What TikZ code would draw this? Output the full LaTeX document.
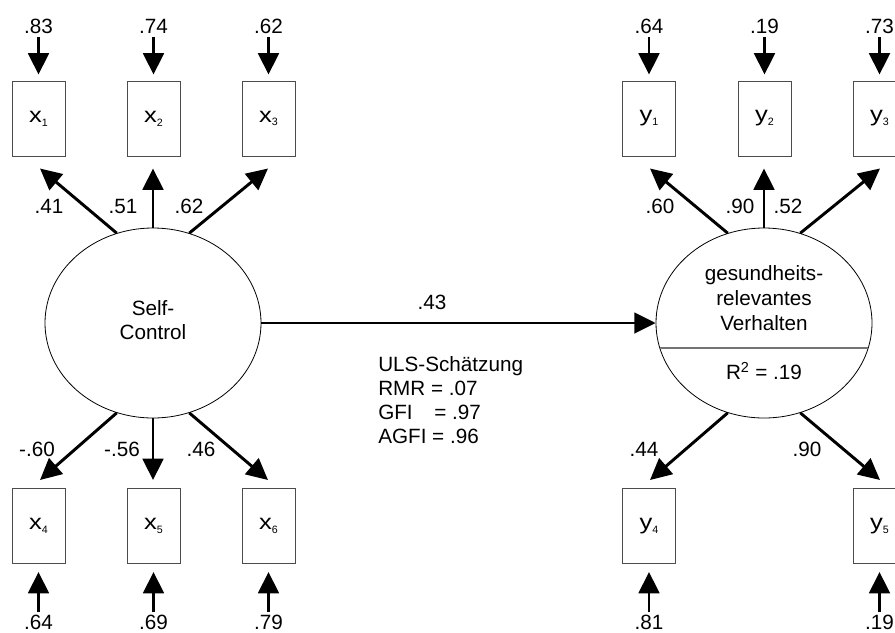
\documentclass[tikz,border=0pt]{standalone}
\usepackage{fontspec}
\setmainfont{Liberation Sans}
\usetikzlibrary{arrows.meta,shapes.geometric,calc}
\newcommand{\vsub}[2]{\scalebox{1.2}[1]{\fontsize{16}{16}\selectfont #1}\raisebox{-0.35ex}{\fontsize{8}{8}\selectfont #2}}
\begin{document}
\begin{tikzpicture}[x=0.75pt,y=-0.75pt,
  font=\fontsize{15.5}{18}\selectfont,
  obs/.style={draw=black!70, line width=0.75pt, minimum width=53*0.75pt, minimum height=75*0.75pt, inner sep=0pt},
  lat/.style={draw, ellipse, line width=0.6pt, minimum width=216*0.75pt, minimum height=190*0.75pt, inner sep=0pt},
  arr/.style={line width=2.2pt, -{Triangle[length=16pt,width=15.5pt]}},
  lbl/.style={inner sep=0pt},
  ttop/.style={arr, shorten >=4.5pt, shorten <=2.25pt},
  tbot/.style={arr, shorten >=6pt, shorten <=1.5pt},
]
\useasboundingbox (0,0) rectangle (895,632);
% latent variables
\node[lat] (sc) at (153,323) {};
\node[lat] (gv) at (764,323) {};
\node[lbl, align=center, font=\fontsize{15.5}{18.5}\selectfont] (sct) at (153,320) {Self-\\Control};
\node[lbl, align=center, font=\fontsize{15.5}{18.5}\selectfont] (gvt) at (764,298) {gesundheits-\\relevantes\\Verhalten};
\node[lbl] (r2) at (764,371) {R\textsuperscript{2} = .19};
\draw[black!55, line width=1.1pt] (gv.west |- 0,348) ++(4,0) coordinate (gl) -- ($(gv.east |- 0,348)+(-4,0)$) coordinate (gr);
% observed
\node[obs] (x1) at (38.5,118.5) {\vsub{x}{1}};
\node[obs] (x2) at (153.5,118.5) {\vsub{x}{2}};
\node[obs] (x3) at (268.5,118.5) {\vsub{x}{3}};
\node[obs] (x4) at (38.5,526) {\vsub{x}{4}};
\node[obs] (x5) at (153.5,526) {\vsub{x}{5}};
\node[obs] (x6) at (268.5,526) {\vsub{x}{6}};
\node[obs] (y1) at (649,118.5) {\vsub{y}{1}};
\node[obs] (y2) at (764.5,118.5) {\vsub{y}{2}};
\node[obs] (y3) at (879.5,118.5) {\vsub{y}{3}};
\node[obs] (y4) at (649,526) {\vsub{y}{4}};
\node[obs] (y5) at (879.5,526) {\vsub{y}{5}};
% error labels top
\node[lbl] (e1) at (38.5,26.5) {.83};
\node[lbl] (e2) at (153.5,26.5) {.74};
\node[lbl] (e3) at (268.5,26.5) {.62};
\node[lbl] (e7) at (649,26.5) {.64};
\node[lbl] (e8) at (764.5,26.5) {.19};
\node[lbl] (e9) at (879.5,26.5) {.73};
\foreach \e/\b in {e1/x1,e2/x2,e3/x3,e7/y1,e8/y2,e9/y3}
  \draw[ttop] (\e.south) -- (\b.north);
% error labels bottom
\node[lbl] (e4) at (38.5,622) {.64};
\node[lbl] (e5) at (153.5,622) {.69};
\node[lbl] (e6) at (268.5,622) {.79};
\node[lbl] (e10) at (649,622) {.81};
\node[lbl] (e11) at (879.5,622) {.19};
\foreach \e/\b in {e4/x4,e5/x5,e6/x6,e10/y4,e11/y5}
  \draw[tbot] (\e.north) -- (\b.south);
% loadings
\draw[arr] (sc.112) -- ($(x1.south)+(1.5,12)$);
\draw[arr] (sc.north) -- ($(x2.south)+(-0.5,12)$);
\draw[arr] (sc.68) -- ($(x3.south)+(-0.5,12)$);
\draw[arr] (sc.-112) -- ($(x4.north)+(1.5,-8)$);
\draw[arr] (sc.south) -- ($(x5.north)+(-0.5,-8)$);
\draw[arr] (sc.-68) -- ($(x6.north)+(-0.5,-8)$);
\draw[arr] (gv.112) -- ($(y1.south)+(1,12)$);
\draw[arr] (gv.north) -- ($(y2.south)+(-0.5,12)$);
\draw[arr] (gv.68) -- ($(y3.south)+(0.5,12)$);
\draw[arr] (gv.-112) -- ($(y4.north)+(1,-8)$);
\draw[arr] (gv.-68) -- ($(y5.north)+(0.5,-8)$);
\node[lbl] at (49,206) {.41};
\node[lbl] at (123,206) {.51};
\node[lbl] at (189,206) {.62};
\node[lbl] at (37,449) {-.60};
\node[lbl] at (122,449) {-.56};
\node[lbl] at (201,449) {.46};
\node[lbl] at (660,206) {.60};
\node[lbl] at (740,206) {.90};
\node[lbl] at (788,206) {.52};
\node[lbl] at (644,449) {.44};
\node[lbl] at (807,449) {.90};
% structural path
\draw[arr] (sc.east) -- (gv.west);
\node[lbl] (b) at (432,302) {.43};
% fit statistics
\node[lbl, anchor=north west, align=left, font=\fontsize{15.5}{18}\selectfont] (fit) at (378,356)
  {ULS-Schätzung\\RMR = .07\\GFI\hspace{1.05em}= .97\\AGFI = .96};
\end{tikzpicture}
\end{document}
